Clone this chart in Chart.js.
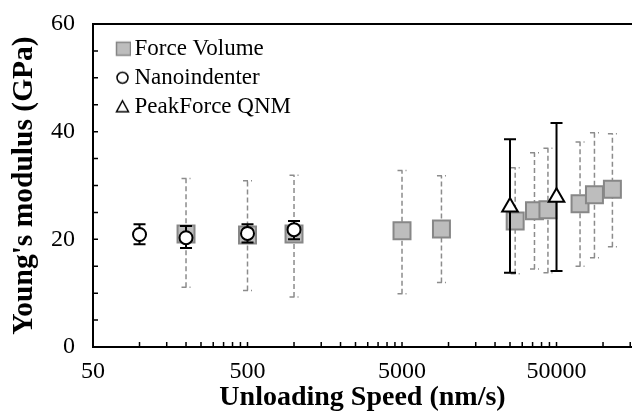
<!DOCTYPE html>
<html>
<head>
<meta charset="utf-8">
<script src="https://cdn.jsdelivr.net/npm/chart.js@4.4.1/dist/chart.umd.min.js"></script>
<style>
  html, body { margin: 0; padding: 0; background: #fff; }
  #caixa { width: 632px; height: 412px; }
</style>
</head>
<body>
<div id="caixa"><canvas id="grafico"></canvas></div>
<script>
// --- Dados ---
const xTicks = [50, 500, 5000, 50000];
const yTicks = [0, 20, 40, 60];

const fvSpeed = [200, 500, 1000, 5000, 9000, 27000, 36000, 44000, 71000, 88000, 115000];
const fvModulus = [21.0, 20.8, 21.0, 21.6, 21.9, 23.4, 25.3, 25.5, 26.6, 28.3, 29.3];
const fvLow = [11.1, 10.5, 9.3, 9.9, 12.0, 13.6, 14.5, 13.8, 15.0, 16.6, 18.6];
const fvHigh = [31.3, 30.9, 31.9, 32.8, 31.8, 33.3, 36.1, 36.9, 38.1, 39.8, 39.6];

const niSpeed = [100, 200, 500, 1000];
const niModulus = [20.9, 20.3, 21.1, 21.8];
const niLow = [19.1, 18.4, 19.4, 20.0];
const niHigh = [22.8, 22.5, 22.8, 23.4];

const pfSpeed = [25000, 50000];
const pfModulus = [26.0, 27.8];
const pfLow = [13.8, 14.1];
const pfHigh = [38.6, 41.6];

const fonte = "'Liberation Serif', 'Times New Roman', serif";

function pontos(xs, ys) {
  return xs.map((x, i) => ({ x: x, y: ys[i] }));
}

// --- Ícones da legenda (desenhados deslocados para a direita) ---
function criarIcone(desenho) {
  const c = document.createElement("canvas");
  c.width = 40;
  c.height = 24;
  const g = c.getContext("2d");
  g.lineWidth = 1.5;
  desenho(g, 32.5, 12);
  return c;
}
const iconeFV = criarIcone((g, cx, cy) => {
  g.fillStyle = "#bdbdbd";
  g.strokeStyle = "#858585";
  g.fillRect(cx - 7, cy - 6.5, 14, 13);
  g.strokeRect(cx - 7, cy - 6.5, 14, 13);
});
const iconeNI = criarIcone((g, cx, cy) => {
  g.fillStyle = "#fff";
  g.strokeStyle = "#000";
  g.beginPath();
  g.arc(cx - 1, cy, 5.5, 0, Math.PI * 2);
  g.fill();
  g.stroke();
});
const iconePF = criarIcone((g, cx, cy) => {
  g.fillStyle = "#fff";
  g.strokeStyle = "#000";
  g.beginPath();
  g.moveTo(cx - 1, cy - 6);
  g.lineTo(cx + 5, cy + 5);
  g.lineTo(cx - 7, cy + 5);
  g.closePath();
  g.fill();
  g.stroke();
});
const icones = [iconeFV, iconeNI, iconePF];

// --- Barras de erro desenhadas antes de cada série ---
const barrasDeErro = {
  id: "barrasDeErro",
  beforeDatasetDraw(chart, args) {
    const ds = chart.data.datasets[args.index];
    if (!ds.erroMin) return;
    const escalaY = chart.scales.y;
    const ctx = chart.ctx;
    const w = ds.erroCapa / 2;
    ctx.save();
    ctx.strokeStyle = ds.erroCor;
    ctx.lineWidth = ds.erroLargura;
    ctx.setLineDash(ds.erroTraco);
    args.meta.data.forEach((pt, i) => {
      const yMin = escalaY.getPixelForValue(ds.erroMin[i]);
      const yMax = escalaY.getPixelForValue(ds.erroMax[i]);
      ctx.beginPath();
      ctx.moveTo(pt.x, yMin);
      ctx.lineTo(pt.x, yMax);
      ctx.moveTo(pt.x - w, yMin);
      ctx.lineTo(pt.x + w, yMin);
      ctx.moveTo(pt.x - w, yMax);
      ctx.lineTo(pt.x + w, yMax);
      ctx.stroke();
    });
    ctx.restore();
  },
};

// --- Marcas de escala para dentro + linha superior ---
const marcasInternas = {
  id: "marcasInternas",
  afterDraw(chart) {
    const { ctx, chartArea, scales } = chart;
    ctx.save();
    ctx.strokeStyle = "#000";
    ctx.lineWidth = 1.5;
    ctx.beginPath();
    // eixo x: 50,100,...,450, 500,1000,... (log)
    xTicks.forEach((base) => {
      for (let k = 1; k <= 9; k++) {
        const v = base * k;
        if (v > scales.x.max) break;
        const px = scales.x.getPixelForValue(v);
        if (px <= chartArea.left + 1) continue;
        ctx.moveTo(px, chartArea.bottom);
        ctx.lineTo(px, chartArea.bottom - 5);
      }
    });
    // eixo y: a cada 5
    for (let v = 5; v < 60; v += 5) {
      const py = scales.y.getPixelForValue(v);
      ctx.moveTo(chartArea.left, py);
      ctx.lineTo(chartArea.left + 5, py);
    }
    ctx.stroke();
    ctx.lineWidth = 2;
    ctx.beginPath();
    ctx.moveTo(chartArea.left, chartArea.top);
    ctx.lineTo(chartArea.right, chartArea.top);
    ctx.stroke();
    ctx.restore();
  },
};

const ctx = document.getElementById("grafico").getContext("2d");
new Chart(ctx, {
  type: "scatter",
  data: {
    datasets: [
      {
        label: "Force Volume",
        data: pontos(fvSpeed, fvModulus),
        pointStyle: "rect",
        pointRadius: 12,
        pointBackgroundColor: "#bdbdbd",
        pointBorderColor: "#878787",
        pointBorderWidth: 2,
        erroMin: fvLow,
        erroMax: fvHigh,
        erroCor: "#8c8c8c",
        erroLargura: 1.5,
        erroTraco: [5, 3],
        erroCapa: 9,
        order: 3,
      },
      {
        label: "Nanoindenter",
        data: pontos(niSpeed, niModulus),
        pointStyle: "circle",
        pointRadius: 6.5,
        pointBackgroundColor: "#fff",
        pointBorderColor: "#000",
        pointBorderWidth: 2,
        erroMin: niLow,
        erroMax: niHigh,
        erroCor: "#000",
        erroLargura: 2,
        erroTraco: [],
        erroCapa: 12,
        order: 2,
      },
      {
        label: "PeakForce QNM",
        data: pontos(pfSpeed, pfModulus),
        pointStyle: "triangle",
        pointRadius: 9,
        pointBackgroundColor: "#fff",
        pointBorderColor: "#000",
        pointBorderWidth: 2,
        erroMin: pfLow,
        erroMax: pfHigh,
        erroCor: "#000",
        erroLargura: 2,
        erroTraco: [],
        erroCapa: 12,
        order: 1,
      },
    ],
  },
  options: {
    responsive: true,
    maintainAspectRatio: false,
    animation: false,
    layout: { autoPadding: false, padding: { top: 24, right: 0, left: 0, bottom: 0 } },
    plugins: {
      tooltip: { enabled: false },
      legend: {
        position: "chartArea",
        align: "start",
        // título vazio só para empurrar a legenda para baixo
        title: { display: true, text: "", font: { size: 6 }, padding: { top: 24, bottom: 0 } },
        labels: {
          usePointStyle: true,
          pointStyleWidth: 24,
          padding: 6,
          color: "#000",
          font: { family: fonte, size: 23 },
          generateLabels: (chart) =>
            chart.data.datasets.map((ds, i) => ({
              text: ds.label,
              pointStyle: icones[i],
              datasetIndex: i,
              hidden: false,
              lineWidth: 0,
              fillStyle: "transparent",
              strokeStyle: "transparent",
              fontColor: "#000",
            })),
        },
      },
    },
    scales: {
      x: {
        type: "logarithmic",
        min: 50,
        max: 154000,
        afterBuildTicks: (scale) => {
          scale.ticks = xTicks.map((v) => ({ value: v }));
        },
        afterFit: (scale) => {
          scale.height = 65;
          scale.paddingLeft = 0;
          scale.paddingRight = 0;
        },
        grid: { display: false, drawTicks: false },
        border: { display: true, color: "#000", width: 2 },
        ticks: {
          autoSkip: false,
          maxRotation: 0,
          padding: 10,
          color: "#000",
          font: { family: fonte, size: 24 },
          callback: (v) => String(v),
        },
        title: {
          display: true,
          text: "Unloading Speed (nm/s)",
          color: "#000",
          font: { family: fonte, size: 28, weight: "bold", lineHeight: 1 },
          padding: { top: 0, bottom: 0 },
        },
      },
      y: {
        min: 0,
        max: 60,
        afterBuildTicks: (scale) => {
          scale.ticks = yTicks.map((v) => ({ value: v }));
        },
        afterFit: (scale) => {
          scale.width = 93;
          scale.paddingTop = 0;
          scale.paddingBottom = 0;
        },
        grid: { display: false, drawTicks: false },
        border: { display: true, color: "#000", width: 2 },
        ticks: {
          padding: 18,
          color: "#000",
          font: { family: fonte, size: 24 },
        },
        title: {
          display: true,
          text: "Young's modulus (GPa)",
          color: "#000",
          font: { family: fonte, size: 29.5, weight: "bold", lineHeight: 1 },
          padding: { top: 10, bottom: 0 },
        },
      },
    },
  },
  plugins: [barrasDeErro, marcasInternas],
});
</script>
</body>
</html>
